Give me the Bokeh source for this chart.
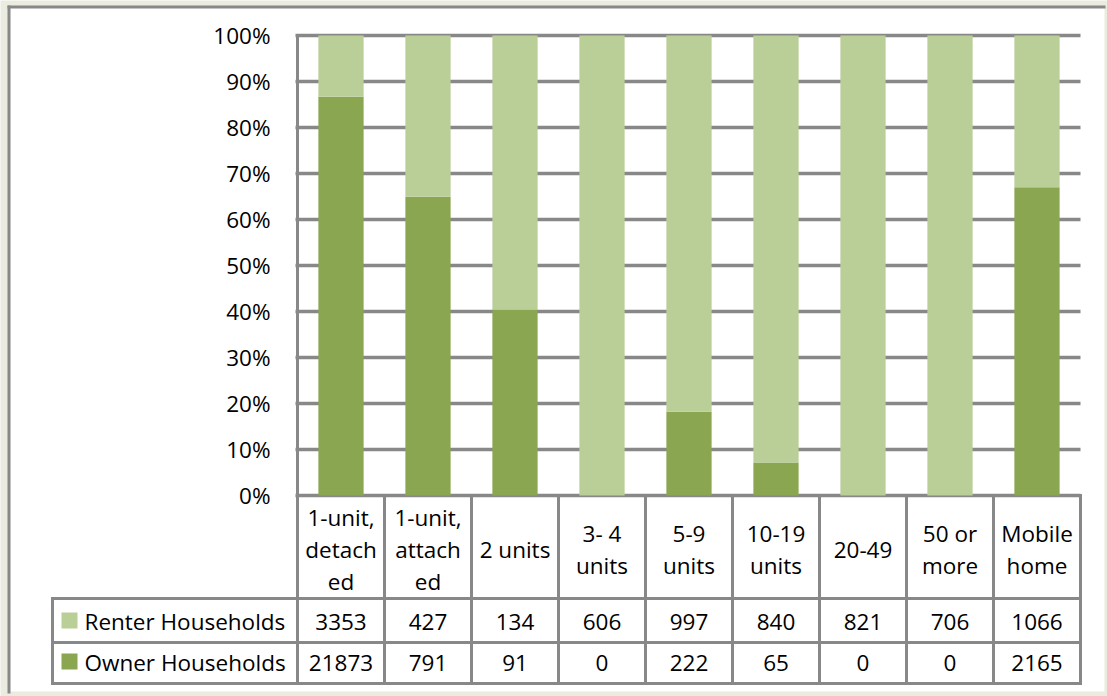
from bokeh.plotting import figure
from bokeh.models import Range1d, ColumnDataSource
from bokeh.core.properties import value
from bokeh.embed import file_html
from bokeh.resources import INLINE

# ---------------- data ----------------
categories = ["1-unit,\ndetach\ned", "1-unit,\nattach\ned", "2 units", "3- 4\nunits",
              "5-9\nunits", "10-19\nunits", "20-49", "50 or\nmore", "Mobile\nhome"]
renter = [3353, 427, 134, 606, 997, 840, 821, 706, 1066]
owner = [21873, 791, 91, 0, 222, 65, 0, 0, 2165]
series_names = ["Renter Households", "Owner Households"]
y_ticks = [0, 10, 20, 30, 40, 50, 60, 70, 80, 90, 100]
y_tick_labels = ["0%", "10%", "20%", "30%", "40%", "50%", "60%", "70%", "80%", "90%", "100%"]

# ---------------- styles ----------------
LIGHT = "#BACE98"
DARK = "#8AA650"
GRID = "#888888"
BEIGE = "#EBEBE0"
FONT = value("Open Sans")
FSIZE = value("22.5px")
TXT = "#000000"

W, H = 1107, 696
PX_X0, PX_COL = 297, 87      # pixel of x=0, pixels per category
PX_Y0, PX_PCT = 495, 4.6     # pixel of 0%, pixels per percent


def dx(px):
    return (px - PX_X0) / PX_COL


def dy(px):
    return (PX_Y0 - px) / PX_PCT


n = len(categories)
xs = [i + 0.5 for i in range(n)]
totals = [r + o for r, o in zip(renter, owner)]
owner_pct = [o / t * 100 for o, t in zip(owner, totals)]

src = ColumnDataSource(dict(x=xs, owner_pct=owner_pct, top=[100] * n, zero=[0] * n))

p = figure(width=W, height=H, x_range=Range1d(dx(0), dx(W)), y_range=Range1d(dy(H), dy(0)),
           output_backend="svg", toolbar_location=None, x_axis_location=None,
           y_axis_location=None, min_border=0, min_border_left=0, min_border_right=0,
           min_border_top=0, min_border_bottom=0)
p.grid.visible = False
p.outline_line_color = None
p.background_fill_color = BEIGE
p.border_fill_color = BEIGE

# chart area
p.quad(left=dx(9), right=dx(1104), top=dy(7), bottom=dy(691), fill_color="white", line_color=None)
p.segment(x0=[dx(7), dx(8.5)], x1=[dx(1105), dx(8.5)], y0=[dy(6.5), dy(5)], y1=[dy(6.5), dy(693)],
          line_color=GRID, line_width=3)

# gridlines
p.segment(x0=[dx(295)] * len(y_ticks), x1=[dx(1080)] * len(y_ticks), y0=y_ticks, y1=y_ticks,
          line_color=GRID, line_width=3.5)

# bars
p.vbar(x="x", width=0.52, bottom="zero", top="owner_pct", source=src, fill_color=DARK, line_color=None)
p.vbar(x="x", width=0.52, bottom="owner_pct", top="top", source=src, fill_color=LIGHT, line_color=None)

# table lines
row_lines_px = [598, 642, 683]
p.segment(x0=[dx(52)] * 3, x1=[n] * 3, y0=[dy(v) for v in row_lines_px], y1=[dy(v) for v in row_lines_px],
          line_color=GRID, line_width=3, line_cap="square")
vx = [float(i) for i in range(1, n + 1)]
p.segment(x0=vx, x1=vx, y0=[0] * n, y1=[dy(683)] * n, line_color=GRID, line_width=3, line_cap="square")
p.segment(x0=[0, dx(52)], x1=[0, dx(52)], y0=[100, dy(598)], y1=[dy(683), dy(683)],
          line_color=GRID, line_width=3, line_cap="square")

# y tick labels
p.text(x=[dx(270)] * len(y_ticks), y=y_ticks, text=y_tick_labels, text_font=FONT, text_font_size=FSIZE,
       text_align="right", text_baseline="middle", text_color=TXT)

# category header labels
hx, hy, ht = [], [], []
for i, lab in enumerate(categories):
    lines = lab.split("\n")
    k = len(lines)
    for j, line in enumerate(lines):
        hx.append(i + 0.5)
        hy.append(dy(549 + (j - (k - 1) / 2) * 32))
        ht.append(line)
p.text(x=hx, y=hy, text=ht, text_font=FONT, text_font_size=FSIZE, text_align="center",
       text_baseline="middle", text_color=TXT)

# row legends and labels
row_y_px = [621, 662]
row_colors = [LIGHT, DARK]
for name, ypx, col, vals in zip(series_names, row_y_px, row_colors, [renter, owner]):
    p.quad(left=dx(61), right=dx(77), top=dy(ypx - 9), bottom=dy(ypx + 7), fill_color=col, line_color=None)
    p.text(x=[dx(84)], y=[dy(ypx)], text=[name], text_font=FONT, text_font_size=FSIZE,
           text_align="left", text_baseline="middle", text_color=TXT)
    p.text(x=xs, y=[dy(ypx)] * n, text=[str(v) for v in vals], text_font=FONT, text_font_size=FSIZE,
           text_align="center", text_baseline="middle", text_color=TXT)

open("out.html", "w").write(file_html(p, INLINE))
